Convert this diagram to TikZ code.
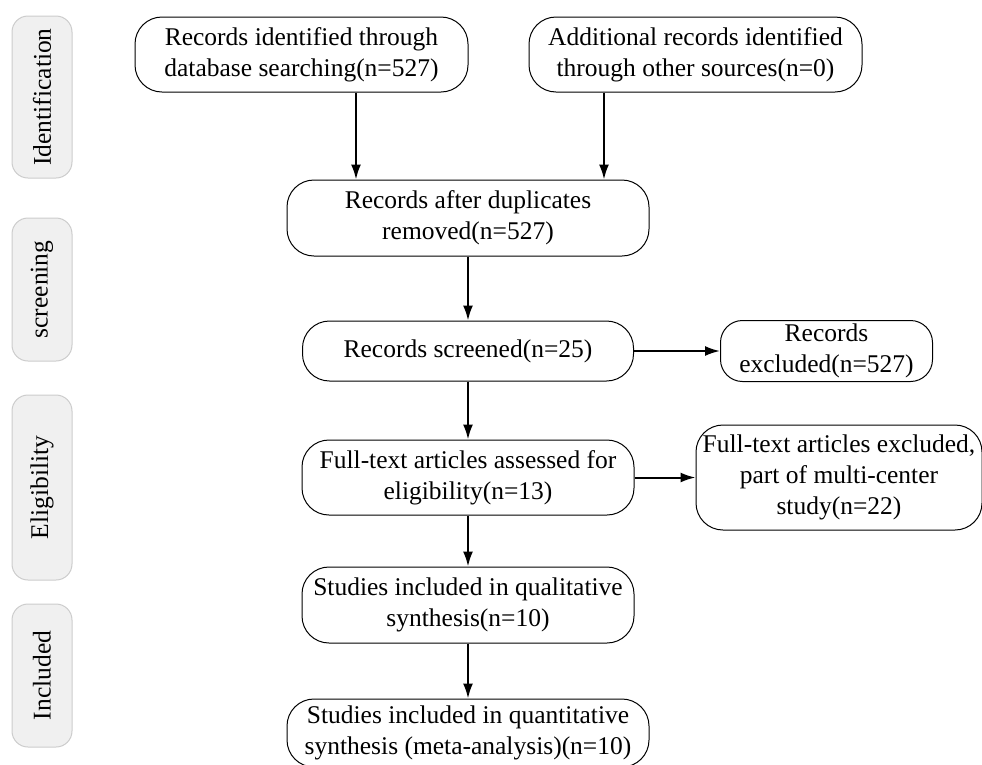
\documentclass[tikz,border=0pt]{standalone}
\usepackage{fontspec}
\setmainfont{Liberation Serif}
\usepackage{tikz}
\usetikzlibrary{positioning}
\usetikzlibrary{arrows.meta}
\usetikzlibrary{calc}

\begin{document}
\begin{tikzpicture}[x=1pt,y=-1pt]
\tikzset{record/.style={rectangle, rounded corners=27pt, draw, line width=1pt, align=center, inner sep=0pt, font=\fontsize{25.5}{31}\selectfont}}
\tikzset{stage/.style={rectangle, rounded corners=16pt, draw=gray!40, fill=gray!12, line width=1pt, rotate=90, minimum height=60pt, inner sep=0pt, font=\fontsize{25.5}{31}\selectfont}}
\tikzset{flow/.style={-{Latex[length=15pt,width=10pt]}, line width=2pt}}
\useasboundingbox (0,0) rectangle (982,764);
% side stages
\node[stage, minimum width=162pt] (ident) at (42,97) {Identification};
\node[stage, minimum width=143pt] (screen) at (42,289.5) {screening};
\node[stage, minimum width=185pt] (elig) at (42,487.5) {Eligibility};
\node[stage, minimum width=143pt] (incl) at (42,675.5) {Included};
% records
\node[record, minimum width=333pt, minimum height=75pt] (dbsearch) at (301.5,54.5) {Records identified through\\database searching(n=527)};
\node[record, minimum width=333pt, minimum height=75pt, right = 60pt of dbsearch] (othersrc) {Additional records identified\\through other sources(n=0)};
\node[record, minimum width=362pt, minimum height=76pt] (dedup) at (468,218) {Records after duplicates\\removed(n=527)};
\node[record, minimum width=331pt, minimum height=60pt, below = 64pt of dedup] (screened) {Records screened(n=25)};
\node[record, minimum width=212pt, minimum height=61pt, rounded corners=22pt, right = 86pt of screened] (excluded) {Records\\excluded(n=527)};
\node[record, minimum width=332pt, minimum height=75pt, below = 58pt of screened] (fulltext) {Full-text articles assessed for\\eligibility(n=13)};
\node[record, minimum width=286pt, minimum height=105pt, right = 61pt of fulltext] (ftexcl) {Full-text articles excluded,\\part of multi-center\\study(n=22)};
\node[record, minimum width=332pt, minimum height=76pt, below = 51pt of fulltext] (qual) {Studies included in qualitative\\synthesis(n=10)};
\node[record, minimum width=362pt, minimum height=68pt, below = 55pt of qual] (quant) {Studies included in quantitative\\synthesis (meta-analysis)(n=10)};
% connectors
\coordinate (leftin) at (356,0);
\coordinate (rightin) at (604,0);
\draw[flow] (dbsearch.south -| leftin) -- (dedup.north -| leftin);
\draw[flow] (othersrc.south -| rightin) -- (dedup.north -| rightin);
\draw[flow] (dedup) -- (screened);
\draw[flow] (screened) -- (excluded);
\draw[flow] (screened) -- (fulltext);
\draw[flow] (fulltext) -- (ftexcl);
\draw[flow] (fulltext) -- (qual);
\draw[flow] (qual) -- (quant);
\end{tikzpicture}
\end{document}
